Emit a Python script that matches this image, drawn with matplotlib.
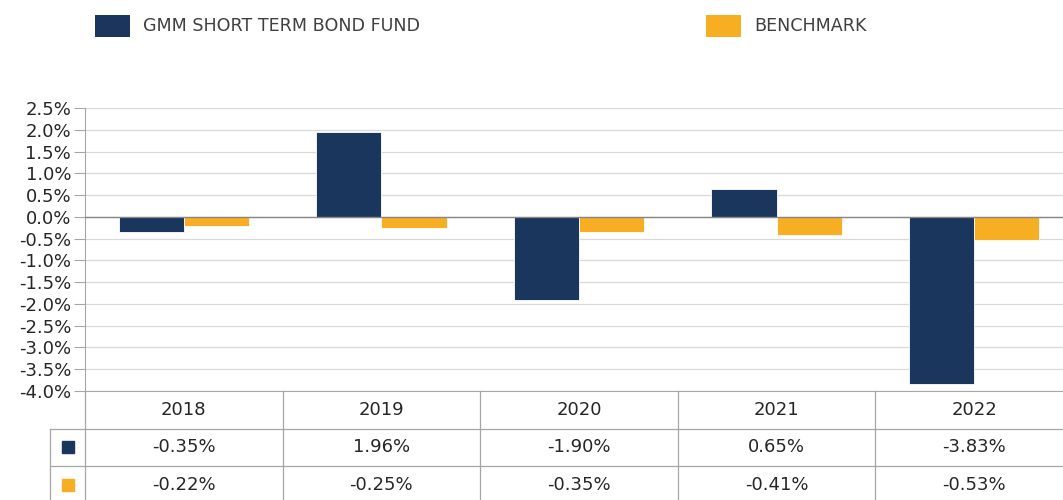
import matplotlib
matplotlib.use('Agg')
import matplotlib.pyplot as plt
import matplotlib.transforms as mtransforms
from matplotlib.patches import Rectangle
from matplotlib.ticker import FuncFormatter, MultipleLocator

# data (annual returns, %)
years = ['2018', '2019', '2020', '2021', '2022']
fund = [-0.35, 1.96, -1.90, 0.65, -3.83]
bench = [-0.22, -0.25, -0.35, -0.41, -0.53]
series_names = ['GMM SHORT TERM BOND FUND', 'BENCHMARK']

NAVY = '#1b365d'
GOLD = '#f7ae22'
GRID = '#d9d9d9'
LINE = '#a6a6a6'
TXT = '#262626'

plt.rcParams['font.family'] = ['DejaVu Sans']

fig = plt.figure(figsize=(10.63, 5.0), dpi=100)
ax = fig.add_axes([85 / 1063, 109 / 500, 988 / 1063, 283 / 500])

x = list(range(len(years)))
w = 0.33
ax.bar([i - w / 2 for i in x], fund, width=w, color=NAVY, edgecolor='white', linewidth=0.6, zorder=3)
ax.bar([i + w / 2 for i in x], bench, width=w, color=GOLD, edgecolor='white', linewidth=0.6, zorder=3)

ax.set_xlim(-0.5, len(years) - 0.5)
ax.set_ylim(-4.0, 2.5)
ax.yaxis.set_major_locator(MultipleLocator(0.5))
ax.yaxis.set_major_formatter(FuncFormatter(lambda v, p: f'{v:.1f}%'))
ax.tick_params(axis='y', length=8, width=0.8, color=LINE, labelsize=13, labelcolor=TXT, pad=2)
ax.tick_params(axis='x', length=0, labelbottom=False)
ax.grid(axis='y', color=GRID, linewidth=0.9, zorder=0)
ax.axhline(0, color='#868686', linewidth=1.0, zorder=4)

for s in ['top', 'right']:
    ax.spines[s].set_visible(False)
ax.spines['left'].set_color(LINE)
ax.spines['bottom'].set_color(LINE)

# data table below the plot
rh = 37.5 / 283
trans = mtransforms.blended_transform_factory(ax.transData, ax.transAxes)
lx = -35 / 988  # left edge of the marker column, axes coords

ax.plot([0, 0], [0, -3 * rh], color=LINE, lw=0.9, transform=ax.transAxes, clip_on=False)
ax.plot([lx, lx], [-rh, -3 * rh], color=LINE, lw=0.9, transform=ax.transAxes, clip_on=False)
for k in (1, 2):
    ax.plot([lx, 1.0], [-k * rh, -k * rh], color=LINE, lw=0.9, transform=ax.transAxes, clip_on=False)
for i in x[:-1]:
    ax.plot([i + 0.5, i + 0.5], [0, -3 * rh], color=LINE, lw=0.9, transform=trans, clip_on=False)

for i, yr in enumerate(years):
    ax.text(i, -0.5 * rh, yr, ha='center', va='center', fontsize=13, color=TXT, transform=trans)
    ax.text(i, -1.5 * rh, f'{fund[i]:.2f}%', ha='center', va='center', fontsize=13, color=TXT, transform=trans)
    ax.text(i, -2.5 * rh, f'{bench[i]:.2f}%', ha='center', va='center', fontsize=13, color=TXT, transform=trans)

for k, c in zip((1.5, 2.5), (NAVY, GOLD)):
    ax.plot([lx / 2], [-k * rh], marker='s', ms=8.5, color=c, transform=ax.transAxes, clip_on=False)

# legend at the top
for (x0, name, c) in [(95, series_names[0], NAVY), (706, series_names[1], GOLD)]:
    fig.patches.append(Rectangle((x0 / 1063, 1 - 37 / 500), 35 / 1063, 22 / 500,
                                 transform=fig.transFigure, facecolor=c, edgecolor='none'))
    fig.text((x0 + 48) / 1063, 1 - 26 / 500, name, ha='left', va='center', fontsize=12.6, color='#404040')

fig.savefig('out.png', dpi=100)
